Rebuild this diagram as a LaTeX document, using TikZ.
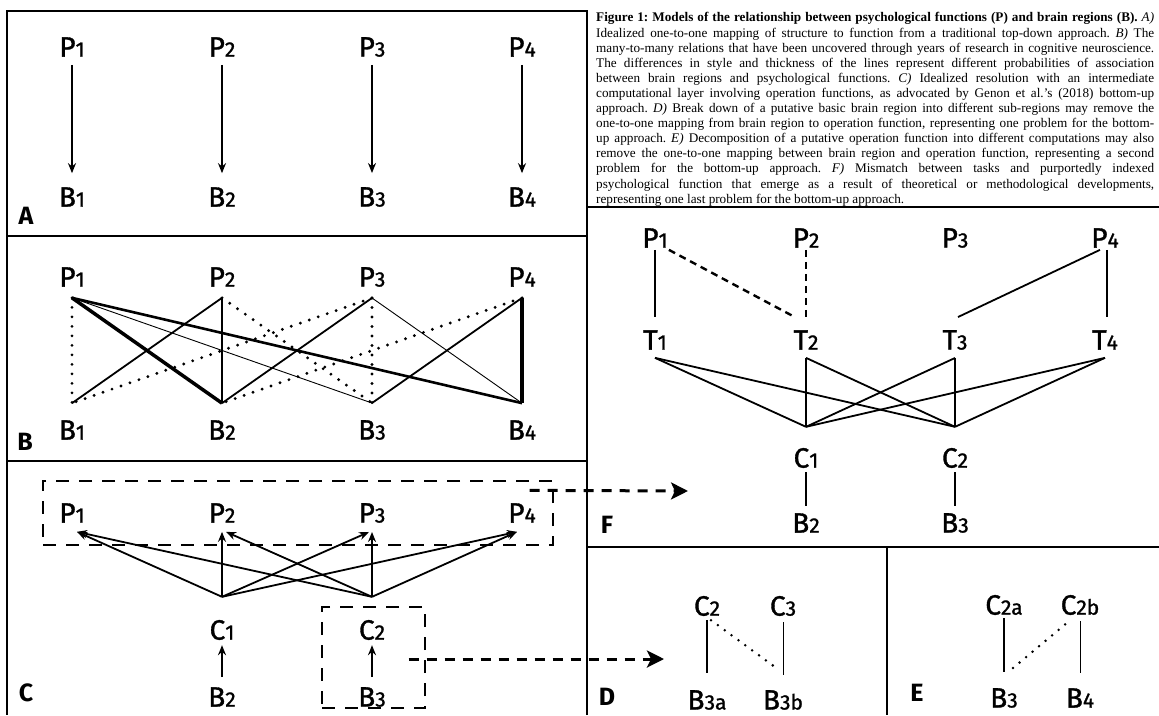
\documentclass[tikz,border=0pt]{standalone}
\usepackage{fontspec}
\usepackage{tikz}
\usetikzlibrary{arrows.meta}

\newfontfamily\capfont{Liberation Serif}
\newfontfamily\labfont{Fira Sans}[FakeBold=1.2]
\newfontfamily\tagfont{Fira Sans}
\newcommand{\smallidx}[1]{{\fontsize{21}{21}\selectfont #1}}

\begin{document}
\begin{tikzpicture}[
    x=1pt, y=-1pt,
    >={Stealth[length=10pt,width=8pt]},
    lbl/.style={font=\labfont\fontsize{28}{28}\selectfont, inner sep=2pt},
    tag/.style={font=\tagfont\bfseries\fontsize{25}{25}\selectfont, inner sep=0pt},
    caption/.style={font=\capfont\fontsize{13.2}{15.1}\selectfont, text width=558pt, align=justify, inner sep=0pt},
    frame/.style={line width=2pt},
    link/.style={line width=1.8pt},
    thinlink/.style={line width=0.9pt},
    boldlink/.style={line width=2.6pt},
    heavylink/.style={line width=3.5pt},
    maxlink/.style={line width=4.8pt},
    dotlink/.style={line width=3.2pt, line cap=round, dash pattern=on 0pt off 9.5pt},
    smalldot/.style={line width=2.8pt, line cap=round, dash pattern=on 0pt off 8.5pt},
    dashlink/.style={line width=2.4pt, dash pattern=on 7pt off 5pt},
    grp/.style={draw, line width=1.3pt, dash pattern=on 13pt off 10pt},
    jump/.style={->, line width=3pt, dash pattern=on 10pt off 8pt, >={Stealth[length=17pt,width=17pt,inset=4pt]}}
]
    \useasboundingbox (0,0) rectangle (1159,715);

    \draw[frame] (587,715) -- (587,11) -- (7,11) -- (7,715);
    \draw[frame] (7,236) -- (587,236);
    \draw[frame] (7,461) -- (587,461);
    \draw[frame] (587,207) -- (1159,207);
    \draw[frame] (587,547) -- (1159,547);
    \draw[frame] (887,547) -- (887,715);

    \node[caption, anchor=north west] (cap) at (596,12.5) {\tolerance=10000 \frenchspacing
        \textbf{Figure 1: Models of the relationship between psychological functions (P) and brain regions (B).} \textit{A)}\linebreak
        Idealized one-to-one mapping of structure to function from a traditional top-down approach. \textit{B)} The\linebreak
        many-to-many relations that have been uncovered through years of research in cognitive neuroscience.\linebreak
        The differences in style and thickness of the lines represent different probabilities of association\linebreak
        between brain regions and psychological functions. \textit{C)} Idealized resolution with an intermediate\linebreak
        computational layer involving operation functions, as advocated by Genon et al.’s (2018) bottom-up\linebreak
        approach. \textit{D)} Break down of a putative basic brain region into different sub-regions may remove the\linebreak
        one-to-one mapping from brain region to operation function, representing one problem for the bottom-\linebreak
        up approach. \textit{E)} Decomposition of a putative operation function into different computations may also\linebreak
        remove the one-to-one mapping between brain region and operation function, representing a second\linebreak
        problem for the bottom-up approach. \textit{F)} Mismatch between tasks and purportedly indexed\linebreak
        psychological function that emerge as a result of theoretical or methodological developments,\linebreak
        representing one last problem for the bottom-up approach.};

    \node[lbl] (PA1) at (72,47) {P\smallidx{1}};
    \node[lbl] (PA2) at (222,47) {P\smallidx{2}};
    \node[lbl] (PA3) at (372,47) {P\smallidx{3}};
    \node[lbl] (PA4) at (522,47) {P\smallidx{4}};
    \node[lbl] (BA1) at (72,197) {B\smallidx{1}};
    \node[lbl] (BA2) at (222,197) {B\smallidx{2}};
    \node[lbl] (BA3) at (372,197) {B\smallidx{3}};
    \node[lbl] (BA4) at (522,197) {B\smallidx{4}};
    \draw[link, ->] ([yshift=-6pt]PA1.south) -- ([yshift=12pt]BA1.north);
    \draw[link, ->] ([yshift=-6pt]PA2.south) -- ([yshift=12pt]BA2.north);
    \draw[link, ->] ([yshift=-6pt]PA3.south) -- ([yshift=12pt]BA3.north);
    \draw[link, ->] ([yshift=-6pt]PA4.south) -- ([yshift=12pt]BA4.north);
    \node[tag] (tagA) at (26,216) {A};

    \node[lbl] (PB1) at (72,277) {P\smallidx{1}};
    \node[lbl] (PB2) at (222,277) {P\smallidx{2}};
    \node[lbl] (PB3) at (372,277) {P\smallidx{3}};
    \node[lbl] (PB4) at (522,277) {P\smallidx{4}};
    \node[lbl] (BB1) at (72,430) {B\smallidx{1}};
    \node[lbl] (BB2) at (222,430) {B\smallidx{2}};
    \node[lbl] (BB3) at (372,430) {B\smallidx{3}};
    \node[lbl] (BB4) at (522,430) {B\smallidx{4}};
    \draw[dotlink] ([yshift=-9pt]PB1.south) -- ([yshift=15pt]BB1.north);
    \draw[heavylink] ([yshift=-9pt]PB1.south) -- ([yshift=15pt]BB2.north);
    \draw[thinlink] ([yshift=-9pt]PB1.south) -- ([yshift=15pt]BB3.north);
    \draw[boldlink] ([yshift=-9pt]PB1.south) -- ([yshift=15pt]BB4.north);
    \draw[link] ([yshift=-9pt]PB2.south) -- ([yshift=15pt]BB1.north);
    \draw[link] ([yshift=-9pt]PB2.south) -- ([yshift=15pt]BB2.north);
    \draw[dotlink] ([yshift=-9pt]PB2.south) -- ([yshift=15pt]BB3.north);
    \draw[dotlink] ([yshift=-9pt]PB3.south) -- ([yshift=15pt]BB1.north);
    \draw[link] ([yshift=-9pt]PB3.south) -- ([yshift=15pt]BB2.north);
    \draw[dotlink] ([yshift=-9pt]PB3.south) -- ([yshift=15pt]BB3.north);
    \draw[thinlink] ([yshift=-9pt]PB3.south) -- ([yshift=15pt]BB4.north);
    \draw[dotlink] ([yshift=-9pt]PB4.south) -- ([yshift=15pt]BB2.north);
    \draw[link] ([yshift=-9pt]PB4.south) -- ([yshift=15pt]BB3.north);
    \draw[maxlink] ([yshift=-9pt]PB4.south) -- ([yshift=15pt]BB4.north);
    \node[tag] (tagB) at (25,442) {B};

    \node[lbl] (PC1) at (72,513) {P\smallidx{1}};
    \node[lbl] (PC2) at (222,513) {P\smallidx{2}};
    \node[lbl] (PC3) at (372,513) {P\smallidx{3}};
    \node[lbl] (PC4) at (522,513) {P\smallidx{4}};
    \node[lbl] (CC1) at (222,630) {C\smallidx{1}};
    \node[lbl] (CC2) at (372,630) {C\smallidx{2}};
    \node[lbl] (BC2) at (222,697) {B\smallidx{2}};
    \node[lbl] (BC3) at (372,697) {B\smallidx{3}};
    \draw[link, ->] ([yshift=21pt]CC1.north) -- ([xshift=5pt,yshift=-7pt]PC1.south);
    \draw[link, ->] ([yshift=21pt]CC1.north) -- ([yshift=-7pt]PC2.south);
    \draw[link, ->] ([yshift=21pt]CC1.north) -- ([xshift=-3pt,yshift=-7pt]PC3.south);
    \draw[link, ->] ([yshift=21pt]CC1.north) -- ([xshift=-5pt,yshift=-7pt]PC4.south);
    \draw[link, ->] ([yshift=21pt]CC2.north) -- ([xshift=5pt,yshift=-7pt]PC1.south);
    \draw[link, ->] ([yshift=21pt]CC2.north) -- ([xshift=4pt,yshift=-7pt]PC2.south);
    \draw[link, ->] ([yshift=21pt]CC2.north) -- ([yshift=-7pt]PC3.south);
    \draw[link, ->] ([yshift=21pt]CC2.north) -- ([xshift=-5pt,yshift=-7pt]PC4.south);
    \draw[link, ->] ([yshift=8pt]BC2.north) -- ([yshift=-3pt]CC1.south);
    \draw[link, ->] ([yshift=8pt]BC3.north) -- ([yshift=-3pt]CC2.south);
    \node[grp, minimum width=510pt, minimum height=64pt] (grpP) at (298,513) {};
    \node[grp, minimum width=103pt, minimum height=101pt] (grpC) at (373.5,657.5) {};
    \node[tag] (tagC) at (26,693) {C};

    \coordinate (toF) at (688,491);
    \coordinate (toD) at (664,659);
    \draw[jump] ([xshift=-24pt,yshift=-10pt]grpP.north east) -- (toF);
    \draw[jump] ([xshift=-17pt,yshift=-1.5pt]grpC.east) -- (toD);

    \node[lbl] (PF1) at (655,238) {P\smallidx{1}};
    \node[lbl] (PF2) at (806,238) {P\smallidx{2}};
    \node[lbl] (PF3) at (955,238) {P\smallidx{3}};
    \node[lbl] (PF4) at (1105,238) {P\smallidx{4}};
    \node[lbl] (TF1) at (655,340) {T\smallidx{1}};
    \node[lbl] (TF2) at (806,340) {T\smallidx{2}};
    \node[lbl] (TF3) at (955,340) {T\smallidx{3}};
    \node[lbl] (TF4) at (1105,340) {T\smallidx{4}};
    \node[lbl] (CF1) at (806,458) {C\smallidx{1}};
    \node[lbl] (CF2) at (955,458) {C\smallidx{2}};
    \node[lbl] (BF2) at (806,523) {B\smallidx{2}};
    \node[lbl] (BF3) at (955,523) {B\smallidx{3}};
    \draw[link] (PF1.south) -- ([yshift=11pt]TF1.north);
    \draw[dashlink] ([xshift=-1pt]PF1.south east) -- ([xshift=-11pt,yshift=11pt]TF2.north);
    \draw[dashlink] (PF2.south) -- ([yshift=11pt]TF2.north);
    \draw[link] ([xshift=-5pt]PF4.south) -- ([xshift=3pt,yshift=11pt]TF3.north);
    \draw[link] ([xshift=2pt]PF4.south) -- ([xshift=2pt,yshift=11pt]TF4.north);
    \draw[link] ([yshift=-6pt]TF1.south) -- ([yshift=19pt]CF1.north);
    \draw[link] ([yshift=-6pt]TF1.south) -- ([yshift=19pt]CF2.north);
    \draw[link] ([yshift=-6pt]TF2.south) -- ([yshift=19pt]CF1.north);
    \draw[link] ([yshift=-6pt]TF2.south) -- ([yshift=19pt]CF2.north);
    \draw[link] ([yshift=-6pt]TF3.south) -- ([yshift=19pt]CF1.north);
    \draw[link] ([yshift=-6pt]TF3.south) -- ([yshift=19pt]CF2.north);
    \draw[link] ([yshift=-6pt]TF4.south) -- ([yshift=19pt]CF1.north);
    \draw[link] ([yshift=-6pt]TF4.south) -- ([yshift=19pt]CF2.north);
    \draw[link] ([yshift=-2pt]CF1.south) -- ([yshift=5pt]BF2.north);
    \draw[link] ([yshift=-2pt]CF2.south) -- ([yshift=5pt]BF3.north);
    \node[tag] (tagF) at (607,525) {F};

    \node[lbl] (CD2) at (707,606) {C\smallidx{2}};
    \node[lbl] (CD3) at (783,606) {C\smallidx{3}};
    \node[lbl] (BD3a) at (707,700) {B\smallidx{3a}};
    \node[lbl] (BD3b) at (783,700) {B\smallidx{3b}};
    \draw[link] ([yshift=-2pt]CD2.south) -- ([yshift=15pt]BD3a.north);
    \draw[thinlink] ([yshift=-4pt]CD3.south) -- ([yshift=13pt]BD3b.north);
    \draw[smalldot] ([xshift=4pt,yshift=-2pt]CD2.south) -- ([xshift=-8pt,yshift=21pt]BD3b.north);
    \node[tag] (tagD) at (607,697) {D};

    \node[lbl] (CE2a) at (1004,605) {C\smallidx{2a}};
    \node[lbl] (CE2b) at (1080,605) {C\smallidx{2b}};
    \node[lbl] (BE3) at (1004,698) {B\smallidx{3}};
    \node[lbl] (BE4) at (1080,698) {B\smallidx{4}};
    \draw[link] ([yshift=-1pt]CE2a.south) -- ([yshift=14pt]BE3.north);
    \draw[thinlink] ([yshift=-4pt]CE2b.south) -- ([yshift=13pt]BE4.north);
    \draw[smalldot] ([xshift=9pt,yshift=18pt]BE3.north) -- ([xshift=-11pt,yshift=-4pt]CE2b.south);
    \node[tag] (tagE) at (917,693) {E};
\end{tikzpicture}
\end{document}
